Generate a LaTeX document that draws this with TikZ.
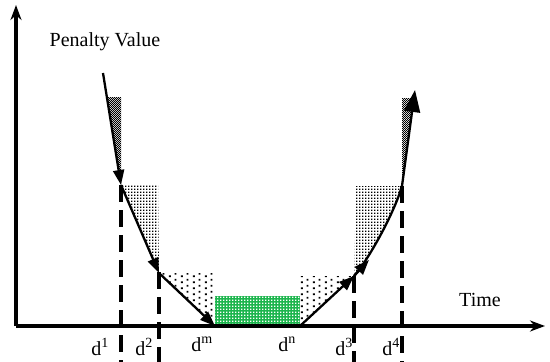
\documentclass[tikz,border=0pt]{standalone}
\usepackage{fontspec}
\setmainfont{Liberation Serif}
\definecolor{pengreen}{HTML}{1CB54D}
\usepackage{tikz}
\usetikzlibrary{arrows.meta, calc, patterns.meta}

% dot fillings of the shaded pieces
\tikzdeclarepattern{name=densedots, type=uncolored,
  bottom left={(0pt,0pt)}, top right={(2.4pt,2.4pt)}, tile size={(2.4pt,2.4pt)},
  code={\fill (0pt,0pt) rectangle (1.3pt,1.3pt); \fill (1.2pt,1.2pt) rectangle (2.4pt,2.4pt);}}
\tikzdeclarepattern{name=middots, type=uncolored,
  bottom left={(0pt,0pt)}, top right={(3.4pt,3.4pt)}, tile size={(3.4pt,3.4pt)},
  code={\fill (0pt,0pt) rectangle (1.6pt,1.6pt);}}
\tikzdeclarepattern{name=sparsedots, type=uncolored,
  bottom left={(0pt,0pt)}, top right={(12pt,6pt)}, tile size={(12pt,6pt)},
  code={\fill (1pt,1pt) rectangle (3pt,3pt); \fill (7pt,4pt) rectangle (9pt,6pt);}}

\begin{document}
\begin{tikzpicture}[x=1pt, y=-1pt, >={Stealth[length=15pt,width=11pt]},
    axisline/.style={line width=3.2pt},
    markline/.style={line width=3.2pt, dash pattern=on 17pt off 8pt},
    penline/.style={line width=2.3pt, -{Triangle[length=15pt,width=11pt]}},
    lbl/.style={font=\fontsize{20}{22}\selectfont, inner sep=0pt}]
  \useasboundingbox (0,0) rectangle (550,362);
  % points of the penalty curve
  \coordinate (O) at (16,326);
  \coordinate (P0) at (103,73);
  \coordinate (J1) at (121,185);
  \coordinate (J2) at (159,273);
  \coordinate (M) at (215,326);
  \coordinate (N) at (300,326);
  \coordinate (J3) at (354,276);
  \coordinate (C1) at (367,262);
  \coordinate (C2) at (394,214);
  \coordinate (J4) at (402,186);
  \coordinate (P6) at (415,90);
  % shaded pieces
  \fill[pattern=densedots] (107,97) -- (J1 |- 0,97) -- (J1) -- cycle;
  \fill[pattern=middots] (J1) -- (158,185) -- (J2) -- cycle;
  \fill[pattern=sparsedots] (J2) -- (M |- J2) -- (M) -- cycle;
  \fill[pengreen] (M |- 0,296) rectangle (N);
  \fill[pattern=middots, pattern color=white] (M |- 0,296) rectangle (N);
  \fill[pattern=sparsedots] (N) -- (N |- J3) -- (J3) -- cycle;
  \fill[pattern=middots] (J3) -- (356,186) -- (J4) .. controls (C2) and (C1) .. (J3);
  \fill[pattern=densedots] (J4 |- 0,98) -- (414,98) -- (J4) -- cycle;
  % axes
  \draw[axisline, ->] (O) -- (16,5);
  \draw[axisline, ->] (O) -- (545,326);
  \node[lbl] (pv) at (105,42) {Penalty Value};
  \node[lbl] (tm) at (480,300) {Time};
  % due dates
  \foreach \name/\px/\py in {1/121/185, 2/159/272, 3/354/276, 4/402/186} {
    \coordinate (top\name) at (\px,\py);
    \coordinate (bot\name) at (\px,362);
    \draw[markline] (top\name) -- (bot\name);
  }
  \node[lbl, anchor=base east] (d1) at (109,355) {d\textsuperscript{1}};
  \node[lbl, anchor=base east] (d2) at (153,355) {d\textsuperscript{2}};
  \node[lbl, anchor=base] (dm) at (202,351) {d\textsuperscript{m}};
  \node[lbl, anchor=base] (dn) at (287,351) {d\textsuperscript{n}};
  \node[lbl, anchor=base east] (d3) at (353,355) {d\textsuperscript{3}};
  \node[lbl, anchor=base east] (d4) at (400,355) {d\textsuperscript{4}};
  % penalty curve
  \draw[penline] (P0) -- (J1);
  \draw[penline] (J1) -- (J2);
  \draw[penline] (J2) -- (M);
  \draw[penline] (N) -- (J3);
  \draw[line width=2.3pt] (J3) .. controls (C1) and (C2) .. (J4);
  \draw[penline] (J3) -- ($(J3)!22pt!(C1)$);
  \draw[line width=2.3pt, -{Triangle[length=22pt,width=16pt]}] (J4) -- (P6);
\end{tikzpicture}
\end{document}
